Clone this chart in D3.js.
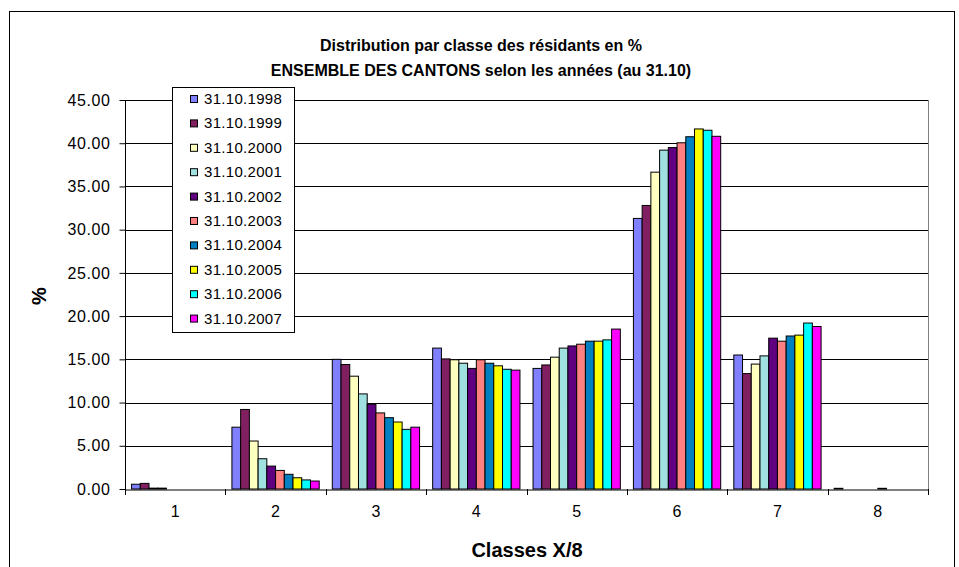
<!DOCTYPE html>
<html><head><meta charset="utf-8">
<script src="https://cdn.jsdelivr.net/npm/d3@7"></script>
<style>body{margin:0;background:#fff}svg{display:block;font-family:"Liberation Sans",Arial,sans-serif}</style>
</head><body><svg id="c" width="959" height="567"></svg>
<script>
const categories = ["1","2","3","4","5","6","7","8"];
const seriesNames = ["31.10.1998","31.10.1999","31.10.2000","31.10.2001","31.10.2002","31.10.2003","31.10.2004","31.10.2005","31.10.2006","31.10.2007"];
const seriesColors = ["#8080FF","#802060","#FFFFC0","#A0E0E0","#600080","#FF8080","#0080C0","#FFFF00","#00FFFF","#FF00FF"];
// values[series][category]
const s1998 = [0.55, 7.15, 15.0, 16.3, 13.95, 31.3, 15.5, 0.08];
const s1999 = [0.65, 9.2, 14.4, 15.05, 14.35, 32.8, 13.35, 0];
const s2000 = [0.1, 5.55, 13.05, 14.95, 15.25, 36.65, 14.45, 0];
const s2001 = [0.1, 3.5, 11.0, 14.55, 16.3, 39.2, 15.4, 0];
const s2002 = [0, 2.65, 9.8, 13.95, 16.55, 39.5, 17.45, 0];
const s2003 = [0, 2.15, 8.8, 14.95, 16.75, 40.05, 17.1, 0.08];
const s2004 = [0, 1.7, 8.25, 14.55, 17.1, 40.75, 17.7, 0];
const s2005 = [0, 1.3, 7.75, 14.25, 17.1, 41.65, 17.8, 0];
const s2006 = [0, 1.05, 6.9, 13.85, 17.25, 41.5, 19.2, 0];
const s2007 = [0, 0.92, 7.15, 13.75, 18.5, 40.8, 18.8, 0];
const seriesValues = [s1998,s1999,s2000,s2001,s2002,s2003,s2004,s2005,s2006,s2007];
const yTicks = [0,5,10,15,20,25,30,35,40,45];

const svg = d3.select("#c");
const L=125, R=928, T=100, B=489;

svg.append("rect").attr("x",9.5).attr("y",11.5).attr("width",945).attr("height",600)
  .attr("fill","#fff").attr("stroke","#000").attr("stroke-width",1);

const x0 = d3.scaleBand().domain(categories).range([L,R]).padding(0);
const gapRatio = 1.5;
const bw = x0.bandwidth();
const pad = bw*(gapRatio/(seriesNames.length+gapRatio))/2;
const x1 = d3.scaleBand().domain(seriesNames).range([pad, bw-pad]).padding(0);
const y = d3.scaleLinear().domain([0,45]).range([B,T]);

// gridlines
svg.append("g").selectAll("line").data(yTicks.filter(d=>d>0)).join("line")
  .attr("x1",L).attr("x2",R).attr("y1",d=>Math.round(y(d))+0.5).attr("y2",d=>Math.round(y(d))+0.5)
  .attr("stroke",(d,i)=>"#000").attr("stroke-width",1);
// right border
svg.append("line").attr("x1",R+0.5).attr("x2",R+0.5).attr("y1",T).attr("y2",B).attr("stroke","#808080");

// bars
const groups = svg.append("g").selectAll("g").data(categories).join("g")
  .attr("transform",d=>`translate(${x0(d)},0)`);
groups.selectAll("rect").data((c,ci)=>seriesNames.map((s,si)=>({s,si,v:seriesValues[si][ci]})).filter(d=>d.v>0))
  .join("rect")
  .attr("x",d=>x1(d.s)).attr("width",x1.bandwidth())
  .attr("y",d=>y(d.v)).attr("height",d=>B-y(d.v))
  .attr("fill",d=>seriesColors[d.si]).attr("stroke","#000").attr("stroke-width",1);

// y axis
const yAxis = d3.axisLeft(y).tickValues(yTicks).tickFormat(d3.format(".2f")).tickSize(6).tickPadding(9);
const gy = svg.append("g").attr("transform",`translate(${L+0.5},0)`).call(yAxis);
gy.select(".domain").attr("stroke","#000").attr("d",`M0,${T}V${B}`);
gy.selectAll(".tick line").attr("stroke","#000");
gy.selectAll("text").attr("font-size",16).attr("fill","#000").attr("font-family","Liberation Sans, Arial, sans-serif").attr("letter-spacing","0.6px");

// x axis
const xAxis = d3.axisBottom(x0).tickSize(0).tickPadding(16);
const gx = svg.append("g").attr("transform",`translate(0,${B+0.5})`).call(xAxis);
gx.select(".domain").attr("stroke","#000");
gx.selectAll("text").attr("font-size",16).attr("fill","#000").attr("font-family","Liberation Sans, Arial, sans-serif");
const bounds = categories.map(c=>x0(c)).concat([R]);
svg.append("g").selectAll("line").data(bounds).join("line")
  .attr("x1",d=>Math.round(d)+0.5).attr("x2",d=>Math.round(d)+0.5).attr("y1",B).attr("y2",B+6).attr("stroke","#000");

// titles
const title = svg.append("text").attr("x",481).attr("text-anchor","middle")
  .attr("font-weight","bold").attr("font-size",16);
title.append("tspan").attr("x",481).attr("y",51).text("Distribution par classe des résidants en %");
title.append("tspan").attr("x",481).attr("y",76).text("ENSEMBLE DES CANTONS selon les années (au 31.10)");

svg.append("text").attr("x",527).attr("y",557).attr("text-anchor","middle")
  .attr("font-weight","bold").attr("font-size",20).text("Classes X/8");
svg.append("text").attr("transform","translate(46,296) rotate(-90)").attr("text-anchor","middle")
  .attr("font-weight","bold").attr("font-size",20).text("%");

// legend
const lg = svg.append("g");
lg.append("rect").attr("x",172.5).attr("y",87.5).attr("width",122).attr("height",245)
  .attr("fill","#fff").attr("stroke","#000");
const items = lg.selectAll("g").data(seriesNames).join("g")
  .attr("transform",(d,i)=>`translate(0,${99+i*24.4})`);
items.append("rect").attr("x",190.5).attr("y",-3.5).attr("width",7).attr("height",7)
  .attr("fill",(d,i)=>seriesColors[i]).attr("stroke","#000");
items.append("text").attr("x",204).attr("y",5).attr("font-size",15).attr("letter-spacing","0.3px").text(d=>d);
</script></body></html>
